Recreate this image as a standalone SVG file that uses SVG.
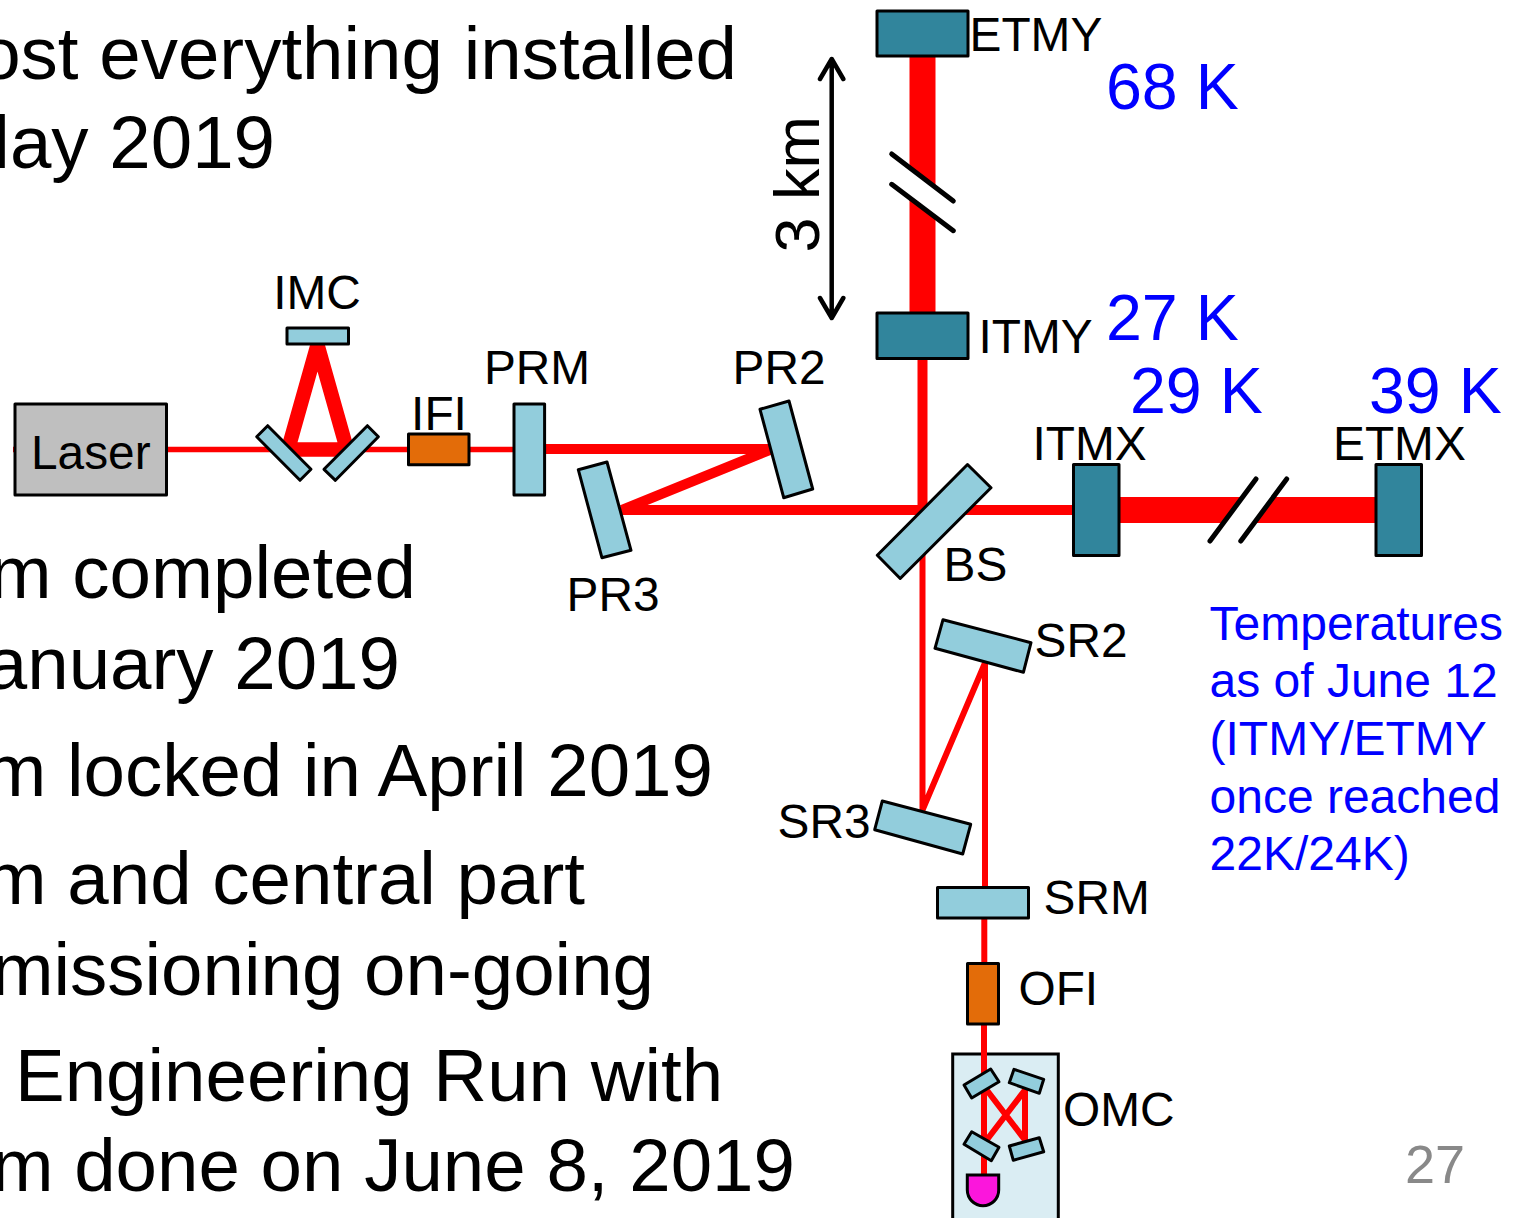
<svg xmlns="http://www.w3.org/2000/svg" width="1517" height="1218" viewBox="0 0 1517 1218">
<style>
text{font-family:"Liberation Sans",Arial,sans-serif;fill:#000}
.body{font-size:74.500px}
.lab{font-size:47.800px}
.temp{font-size:64.500px;fill:#00f}
.note{font-size:48px;fill:#00f}
.end{text-anchor:end}
.mid{text-anchor:middle}
.m{fill:#92cddc;stroke:#000;stroke-width:3;stroke-linejoin:round}
.t{fill:#31859c;stroke:#000;stroke-width:3;stroke-linejoin:round}
.o{fill:#e36c09;stroke:#000;stroke-width:3;stroke-linejoin:round}
.b{fill:none;stroke:#f00;stroke-linejoin:miter}
.k{stroke:#000;fill:none;stroke-width:5;stroke-linecap:round}
</style>
<rect width="1517" height="1218" fill="#fff"/>
<g id="body-text">
<text class="body end" x="737" y="79">ost everything installed</text>
<text class="body end" x="275" y="168">lay 2019</text>
<text class="body end" x="416" y="598">m completed</text>
<text class="body end" x="400" y="689">anuary 2019</text>
<text class="body end" x="713" y="796">m locked in April 2019</text>
<text class="body end" x="585" y="904">m and central part</text>
<text class="body end" x="654" y="995">missioning on-going</text>
<text class="body" x="15" y="1101">Engineering Run with</text>
<text class="body end" x="795" y="1191">m done on June 8, 2019</text>
</g>
<g id="OMC-box"><path d="M952.700 1222V1054H1058.300V1222" fill="#daedf3" stroke="#000" stroke-width="3"/></g>
<g id="connectors">
<path class="b" stroke-width="5.500" d="M13 449.500H515"/>
<path class="b" stroke-width="14.400" d="M288 449.500L317.500 345M347 449.500L317.500 345M288 449.500H347"/>
<path class="b" stroke-width="10" d="M544 449H772L622 510H1075"/>
<path class="b" stroke-width="26" d="M922.500 56V314"/>
<path class="b" stroke-width="10" d="M922.500 358V510"/>
<path class="b" stroke-width="26" d="M1118 510H1377"/>
<path class="b" stroke-width="6" d="M922.500 510V810L985 663V888"/>
<path class="b" stroke-width="6" d="M984.300 918V964M984 1024V1178"/>
<path class="b" stroke-width="6" d="M986.700 1090L1025 1140V1090L986.700 1140"/>
<path d="M891.700 154L953.300 201V230.700L891.700 184.300Z" fill="#fff"/>
<path class="k" d="M891.700 154L953.300 201M891.700 184.300L953.300 230.700"/>
<path d="M1256 479L1210 541H1240.800L1286.700 479Z" fill="#fff"/>
<path class="k" d="M1256 479L1210 541M1286.700 479L1240.800 541"/>
<path d="M831.700 60V317M820 79L831.700 59L843.300 79M820 298L831.700 318L843.300 298" fill="none" stroke="#000" stroke-width="4.500" stroke-linecap="round" stroke-linejoin="round"/>
</g>
<g id="Laser"><rect x="15" y="404" width="151.500" height="91" fill="#bfbfbf" stroke="#000" stroke-width="3" stroke-linejoin="round"/><text class="lab" x="31" y="468.500">Laser</text></g>
<g id="IMC">
<rect class="m" x="287" y="328" width="61.500" height="16"/>
<polygon class="m" points="267.700,425.700 311,469.300 300,480.300 256.700,436.700"/>
<polygon class="m" points="367.400,425.700 378.400,436.700 335.400,480.300 324,469.300"/>
<text class="lab mid" x="317" y="308.500">IMC</text>
</g>
<g id="IFI"><rect class="o" x="408.500" y="434" width="60.500" height="30.700"/><text class="lab mid" x="439" y="429.500">IFI</text></g>
<g id="PRM"><rect class="m" x="514" y="404" width="30.600" height="91"/><text class="lab mid" x="537" y="383.500">PRM</text></g>
<g id="PR2"><polygon class="m" points="760,409.300 789,401 812.700,489 783.700,497.700"/><text class="lab mid" x="779" y="383.500">PR2</text></g>
<g id="PR3"><polygon class="m" points="578.300,469.700 607,462 631,550.300 601.900,557.700"/><text class="lab mid" x="613" y="610.500">PR3</text></g>
<g id="ETMY"><rect class="t" x="877" y="11" width="91" height="45"/><text class="lab" x="969.500" y="51">ETMY</text></g>
<g id="ITMY"><rect class="t" x="877" y="313" width="91" height="45.500"/><text class="lab" x="978.500" y="352.500">ITMY</text></g>
<g id="BS"><polygon class="m" points="967.500,464.500 991,487.700 900.200,578.500 877.300,555.300"/><text class="lab" x="943.500" y="580.500">BS</text></g>
<g id="ITMX"><rect class="t" x="1073.500" y="464.500" width="45.500" height="91"/><text class="lab" x="1032.500" y="459.500">ITMX</text></g>
<g id="ETMX"><rect class="t" x="1376" y="464.500" width="45.500" height="91"/><text class="lab" x="1333" y="459.500">ETMX</text></g>
<g id="SR2"><polygon class="m" points="943,619.700 1031,642.700 1023.400,672.300 935,648.300"/><text class="lab" x="1034.500" y="656.500">SR2</text></g>
<g id="SR3"><polygon class="m" points="882.300,801 970.700,824.300 962.700,854 874.700,829.700"/><text class="lab" x="777.500" y="837.500">SR3</text></g>
<g id="SRM"><rect class="m" x="937.500" y="887.500" width="91" height="30.500"/><text class="lab" x="1043.500" y="913.500">SRM</text></g>
<g id="OFI"><rect class="o" x="967.500" y="963.500" width="31" height="60.500"/><text class="lab" x="1018.500" y="1004.500">OFI</text></g>
<g id="OMC">
<polygon class="m" points="990.700,1069 999,1081.700 971.700,1098 964,1085"/>
<polygon class="m" points="1014,1069.300 1043.700,1079.300 1039.300,1093.300 1009.300,1082.700"/>
<polygon class="m" points="971.700,1131.700 999,1147.300 991.300,1160.700 964,1144.300"/>
<polygon class="m" points="1039.300,1137.700 1043.700,1151.700 1013.300,1160.300 1009.300,1146"/>
<path d="M967.300 1175H998.700V1190A15.700 15.700 0 0 1 967.300 1190Z" fill="#fb16dc" stroke="#000" stroke-width="3"/>
<text class="lab" x="1063" y="1125.500">OMC</text>
</g>
<g id="annotations">
<text transform="translate(819 252.500) rotate(-90)" font-size="63">3 km</text>
<text class="temp" x="1106" y="109">68 K</text>
<text class="temp" x="1106" y="340">27 K</text>
<text class="temp" x="1130" y="413">29 K</text>
<text class="temp" x="1369" y="413">39 K</text>
<text class="note" x="1209.500" y="640">Temperatures</text>
<text class="note" x="1209.500" y="697">as of June 12</text>
<text class="note" x="1209.500" y="755">(ITMY/ETMY</text>
<text class="note" x="1209.500" y="813">once reached</text>
<text class="note" x="1209.500" y="870">22K/24K)</text>
<text x="1405" y="1183" font-size="54" style="fill:#898989">27</text>
</g>
</svg>
